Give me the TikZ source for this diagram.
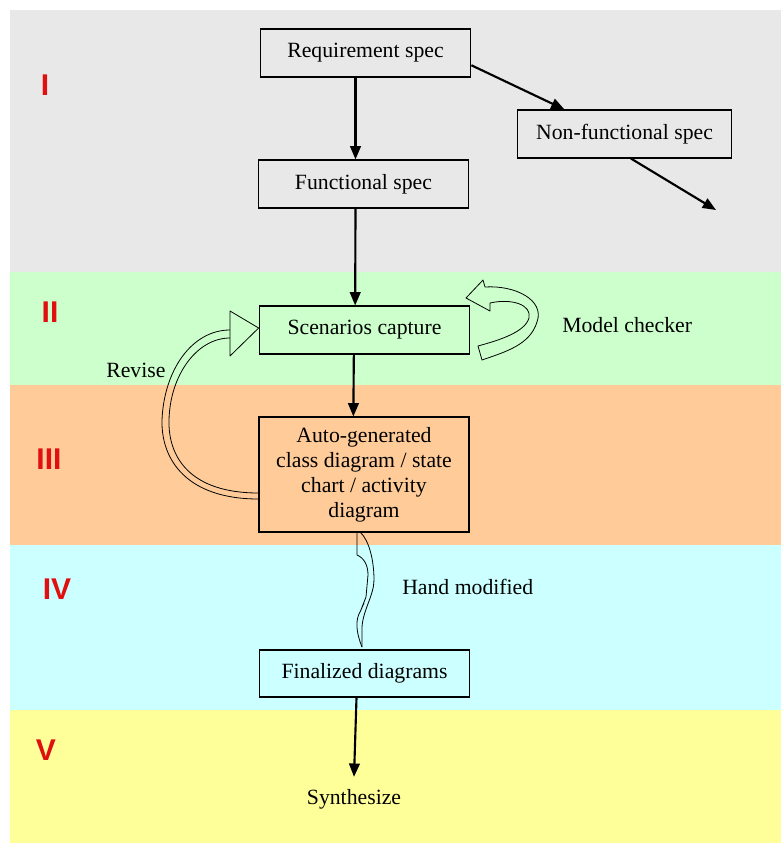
\documentclass[tikz,border=0pt]{standalone}
\usepackage{fontspec}
\setmainfont{Liberation Serif}
\newfontfamily\numfont{Liberation Sans}
\usetikzlibrary{arrows.meta,calc}
\definecolor{bandgray}{HTML}{E8E8E8}
\definecolor{bandgreen}{HTML}{CCFFCC}
\definecolor{bandorange}{HTML}{FFCC99}
\definecolor{bandcyan}{HTML}{CCFFFF}
\definecolor{bandyellow}{HTML}{FFFF99}
\definecolor{numred}{HTML}{E01010}
\begin{document}
\begin{tikzpicture}[x=0.75pt,y=-0.75pt,
  every node/.style={font=\fontsize{16.3}{18.75}\selectfont, inner sep=0pt},
  stepbox/.style={draw=black, line width=0.8pt, minimum width=158pt, minimum height=36pt, align=center},
  flow/.style={line width=1.6pt, -{Triangle[length=10pt,width=8pt]}},
  hollow/.style={line width=0.6pt, line join=round},
  stage/.style={font=\numfont\bfseries\fontsize{22.5}{22.5}\selectfont, text=numred}]

% page and stage bands
\useasboundingbox (0,0) rectangle (781,845);
\fill[white] (0,0) rectangle (781,845);
\fill[bandgray]   (10,10)  rectangle (781,272);
\fill[bandgreen]  (10,272) rectangle (781,385);
\fill[bandorange] (10,385) rectangle (781,545);
\fill[bandcyan]   (10,545) rectangle (781,710);
\fill[bandyellow] (10,710) rectangle (781,843);

% stage numbers
\node[stage] (s1) at (45,85)  {I};
\node[stage] (s2) at (50,312) {II};
\node[stage] (s3) at (49,459) {III};
\node[stage] (s4) at (57,589) {IV};
\node[stage] (s5) at (46,750) {V};

% process steps
\node[stepbox] (req)  at (365.5,53)  {Requirement spec};
\node[stepbox, minimum width=160pt] (nf) at (624.5,134) {Non-functional spec};
\node[stepbox] (func) at (363.5,184) {Functional spec};
\node[stepbox] (scen) at (364.5,330) {Scenarios capture};
\node[stepbox, minimum width=157.5pt, minimum height=86.25pt] (auto) at (364,474.5)
  {Auto-generated\\class diagram / state\\chart / activity\\diagram};
\node[stepbox, minimum height=35.25pt] (fin) at (364.5,673.5) {Finalized diagrams};
\node (syn) at (354,799) {Synthesize};
\coordinate (nfout) at (716,210);

% labels
\node[anchor=west] (mc) at (562,325) {Model checker};
\node[anchor=west] (rev) at (106,370) {Revise};
\node[anchor=west] (hm) at (402,587) {Hand modified};

% main flow
\draw[flow] ([xshift=-7.5pt]req.south) -- ([xshift=-6pt]func.north);
\draw[flow] ($(req.east)!0.5!(req.south east)$) -- ($(nf.north west)!0.22!(nf.north east)$);
\draw[flow] ($(nf.south west)!0.53!(nf.south east)$) -- (nfout);
\draw[flow] ([xshift=-6pt]func.south) -- ([xshift=-7pt]scen.north);
\draw[flow] ([xshift=-8pt]scen.south) -- ([xshift=-8pt]auto.north);
\draw[flow] ([xshift=-6pt]fin.south) -- ([yshift=9pt]syn.north);

% model checker loop (hollow block arrow)
\draw[hollow] (466,298) -- (483,280) -- (485,287)
  .. controls (515,285) and (545,300) .. (537,322)
  .. controls (530,345) and (505,352) .. (482,360)
  -- (478,346)
  .. controls (500,340) and (525,332) .. (529,318)
  .. controls (532,305) and (512,298) .. (490,303)
  -- (490,311) -- cycle;

% revise loop (hollow arrow back to scenarios)
\draw[hollow] (auto.west |- 0,499)
  .. controls (187,499) and (161,460) .. (162,420)
  .. controls (164,370) and (192,330) .. (230,330);
\draw[hollow] (auto.west |- 0,493)
  .. controls (191,493) and (168,458) .. (169,420)
  .. controls (170,375) and (197,338) .. (230,338);
\draw[hollow] (230,311) -- (scen.west |- 0,328) -- (230,356) -- cycle;

% hand modified (twisted ribbon)
\draw[hollow] (360,532) .. controls (369,540) and (374,560) .. (374,580)
  .. controls (374,595) and (363,610) .. (362,627) -- (362,647);
\draw[hollow] (357,532) -- (357,555) .. controls (364,558) and (368,565) .. (368,575)
  -- (366,597) -- (360.5,611) -- (364,603);
\draw[hollow] (360.5,611) .. controls (355,620) and (356,632) .. (362,647);

\end{tikzpicture}
\end{document}
